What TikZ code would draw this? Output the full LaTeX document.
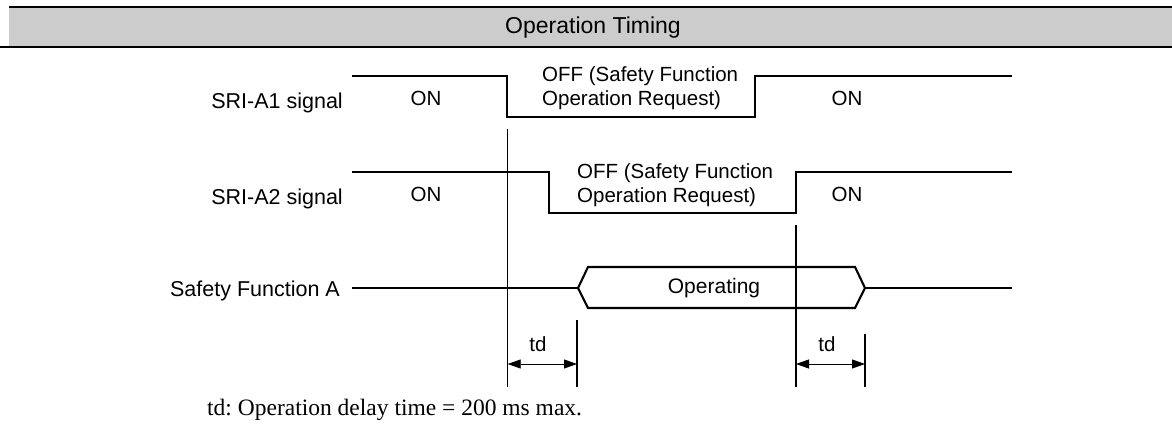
\documentclass[tikz,border=0pt]{standalone}
\usepackage{fontspec}
\setmainfont{Liberation Serif}
\setsansfont{Liberation Sans}
\usetikzlibrary{arrows.meta,positioning,calc}

\tikzset{
  wave/.style={line width=2.1pt},
  marker/.style={line width=1.2pt},
  lbl/.style={font=\sffamily\fontsize{20.5}{24.3}\selectfont, inner sep=0pt},
  sig/.style={font=\sffamily\fontsize{21.5}{24}\selectfont, inner sep=0pt, anchor=base east},
  dim/.style={line width=0.8pt, {Triangle[length=13pt,width=9pt]}-{Triangle[length=13pt,width=9pt]}}
}

\begin{document}
\frenchspacing
\begin{tikzpicture}[x=1pt,y=-1pt]
\useasboundingbox (0,0) rectangle (1172,425);
% header band
\fill[black!20] (9,7) rectangle (1172,47);
\draw[line width=2.2pt] (9,7) -- (1172,7);
\draw[line width=2.2pt] (0,47) -- (1172,47);
\node[lbl, font=\sffamily\fontsize{23}{26}\selectfont, anchor=base] (title) at (593,34) {Operation Timing};

% signal names
\node[sig] (sriA) at (343,109) {SRI-A1 signal};
\node[sig] (sriB) at (343,204) {SRI-A2 signal};
\node[sig] (safe) at (340,296) {Safety Function A};

% SRI-A1
\draw[wave] (352,76) -- (507,76) -- (507,117) -- (755,117) -- (755,76) -- (1012,76);
\node[lbl, anchor=base] (onA1) at (426,106) {ON};
\node[lbl, anchor=base] (onA2) at (847,106) {ON};
\node[lbl, anchor=base west] (offA1) at (542,82) {OFF (Safety Function};
\node[lbl, anchor=base west] (offA2) at (542,106) {Operation Request)};

% SRI-A2
\draw[wave] (352,172) -- (549,172) -- (549,213) -- (796,213) -- (796,172) -- (1012,172);
\node[lbl, anchor=base] (onB1) at (426,201.5) {ON};
\node[lbl, anchor=base] (onB2) at (847,201.5) {ON};
\node[lbl, anchor=base west] (offB1) at (577,178) {OFF (Safety Function};
\node[lbl, anchor=base west] (offB2) at (577,202) {Operation Request)};

% Safety Function A
\coordinate (hexL) at (578,288);
\coordinate (hexR) at (865,288);
\draw[wave] (352,288) -- (hexL);
\draw[wave] (hexL) -- (588,267) -- (855,267) -- (hexR) -- (855,308) -- (588,308) -- cycle;
\draw[wave] (hexR) -- (1012,288);
\node[lbl, font=\sffamily\fontsize{21}{24}\selectfont, anchor=base] (oper) at (714,293.5) {Operating};

% time markers
\coordinate (m1) at (507.7,129);
\coordinate (m2) at (796,225);
\draw[marker] (m1) -- (507.7,387);
\draw[marker] (m2) -- (796,387);
\draw[marker] (577,320) -- (577,387);
\draw[marker] (865,334) -- (865,387);
\draw[dim] (507.7,364) -- (577,364);
\draw[dim] (796,364) -- (865,364);
\node[lbl, anchor=base] (tdA) at (538,351.5) {td};
\node[lbl, anchor=base] (tdB) at (827,351.5) {td};

% note
\node[anchor=base west, inner sep=0pt, font=\fontsize{23.5}{26}\selectfont] (note) at (207,415) {td: Operation delay time = 200 ms max.};
\end{tikzpicture}
\end{document}
